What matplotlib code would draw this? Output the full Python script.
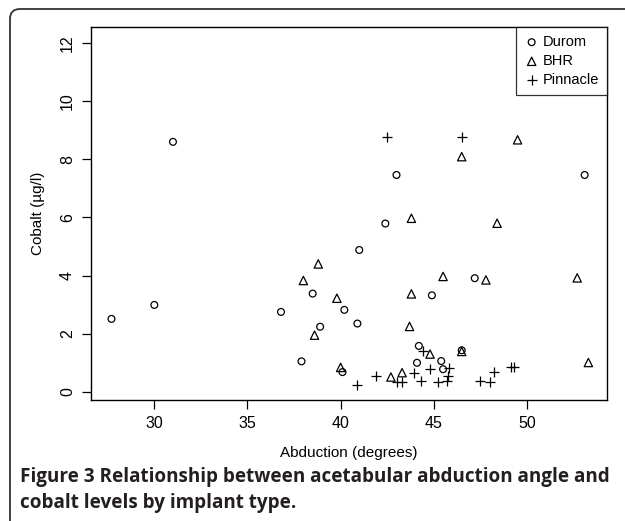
import matplotlib.pyplot as plt
from matplotlib.path import Path
from matplotlib.patches import PathPatch

plt.rcParams['font.family'] = ['Liberation Sans', 'DejaVu Sans']

# values
durom_x = [27.7, 30.0, 31.0, 36.8, 37.9, 38.5, 38.9, 40.1, 40.2, 40.9, 41.0,
           42.4, 43.0, 44.1, 44.2, 44.9, 45.4, 45.5, 46.5, 47.2, 53.1]
durom_y = [2.51, 2.99, 8.60, 2.75, 1.05, 3.38, 2.24, 0.68, 2.82, 2.35, 4.88,
           5.79, 7.46, 1.00, 1.58, 3.32, 1.06, 0.78, 1.43, 3.91, 7.46]

bhr_x = [38.0, 38.6, 38.8, 39.8, 40.0, 42.7, 43.3, 43.7, 43.8, 43.8, 44.8,
         45.5, 46.5, 46.5, 47.8, 48.4, 49.5, 52.7, 53.3]
bhr_y = [3.83, 1.95, 4.40, 3.22, 0.84, 0.51, 0.66, 2.25, 3.37, 5.97, 1.30,
         3.97, 1.39, 8.09, 3.85, 5.80, 8.67, 3.92, 1.01]

pinnacle_x = [40.9, 41.9, 42.5, 43.05, 43.3, 43.95, 44.3, 44.4, 44.8, 45.25,
              45.7, 45.75, 45.8, 46.5, 47.5, 48.0, 48.25, 49.15, 49.3]
pinnacle_y = [0.24, 0.53, 8.78, 0.35, 0.35, 0.64, 0.36, 1.41, 0.78, 0.35,
              0.36, 0.55, 0.82, 8.78, 0.38, 0.34, 0.70, 0.84, 0.84]

x_ticks = [30, 35, 40, 45, 50]
y_ticks = [0, 2, 4, 6, 8, 10, 12]

W, H = 625, 521
fig = plt.figure(figsize=(W / 100, H / 100), dpi=100)
ax = fig.add_axes([91 / W, 1 - 400 / H, 516 / W, 373 / H])

ax.scatter(durom_x, durom_y, s=24, marker='o', facecolors='none',
           edgecolors='black', linewidths=0.9, label='Durom')
ax.scatter(bhr_x, bhr_y, s=36, marker='^', facecolors='none',
           edgecolors='black', linewidths=0.9, label='BHR')
ax.scatter(pinnacle_x, pinnacle_y, s=48, marker='+', color='black',
           linewidths=0.9, label='Pinnacle')

ax.set_xlim(26.6, 54.3)
ax.set_ylim(-0.28, 12.55)
ax.set_xticks(x_ticks)
ax.set_yticks(y_ticks)
ax.set_yticklabels([str(t) for t in y_ticks], rotation=90, va='center')
ax.tick_params(direction='out', length=6.5, width=0.9, labelsize=11.5, pad=5)
for sp in ax.spines.values():
    sp.set_linewidth(1.0)

ax.set_xlabel('Abduction (degrees)', fontsize=11, labelpad=11)
ax.set_ylabel('Cobalt (\u00b5g/l)', fontsize=11, labelpad=11)

leg = ax.legend(loc='upper right', borderaxespad=0, fancybox=False,
                edgecolor='black', fontsize=10.5, handletextpad=0.25,
                borderpad=0.55, labelspacing=0.35, handlelength=1.0,
                scatterpoints=1)
leg.get_frame().set_linewidth(0.9)

# rounded frame (top and left edges) around the figure panel
corner = [(W, 9), (20, 9), (10, 9), (10, 19), (10, H)]
verts = [(x / W, 1 - y / H) for x, y in corner]
codes = [Path.MOVETO, Path.LINETO, Path.CURVE3, Path.CURVE3, Path.LINETO]
fig.patches.append(PathPatch(Path(verts, codes), transform=fig.transFigure,
                             fill=False, edgecolor='#333333', linewidth=1.3))

cap_font = ['Open Sans', 'DejaVu Sans']
fig.text(20 / W, 1 - 477 / H,
         'Figure 3 Relationship between acetabular abduction angle and',
         family=cap_font, weight='bold', fontsize=13.6, color='#231f20',
         va='center', ha='left')
fig.text(20 / W, 1 - 503 / H, 'cobalt levels by implant type.',
         family=cap_font, weight='bold', fontsize=13.6, color='#231f20',
         va='center', ha='left')

fig.savefig('out.png', dpi=100)
